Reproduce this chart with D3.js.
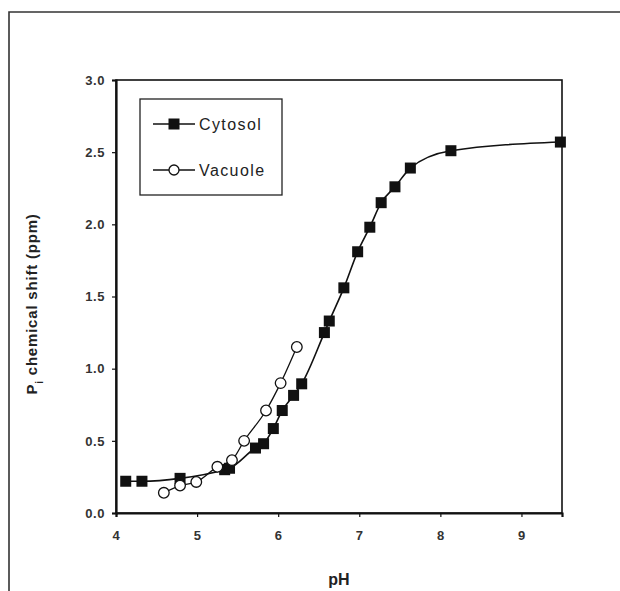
<!DOCTYPE html>
<html lang="en">
    <head>
        <meta charset="UTF-8" />
        <title>Pi chemical shift vs pH</title>
        <script src="https://cdn.jsdelivr.net/npm/d3@7"></script>
    </head>
    <body style="padding: 0; margin: 0; background-color: #fff;">
        <script>
            // titration curves: cytosol and vacuole
            const cytosolPH = [4.12, 4.32, 4.79, 5.34, 5.4, 5.72, 5.82, 5.94, 6.05, 6.19, 6.29, 6.57, 6.63, 6.81, 6.98, 7.13, 7.27, 7.44, 7.63, 8.13, 9.48];
            const cytosolShift = [0.22, 0.22, 0.24, 0.3, 0.31, 0.45, 0.48, 0.585, 0.71, 0.815, 0.895, 1.25, 1.33, 1.56, 1.81, 1.98, 2.15, 2.26, 2.39, 2.51, 2.57];
            const vacuolePH = [4.59, 4.79, 4.99, 5.25, 5.43, 5.58, 5.85, 6.03, 6.23];
            const vacuoleShift = [0.14, 0.19, 0.215, 0.32, 0.366, 0.5, 0.71, 0.9, 1.15];
            const xTicks = [4, 5, 6, 7, 8, 9];
            const yTicks = [0, 0.5, 1, 1.5, 2, 2.5, 3];

            {
                const width = 620;
                const height = 591;
                const plotLeft = 116, plotRight = 562, plotTop = 80, plotBottom = 513;
                const font = "'Liberation Sans', Arial, sans-serif";

                const svg = d3
                    .select('body')
                    .append('svg')
                    .attr('width', width)
                    .attr('height', height)
                    .style('display', 'block')
                    .style('font-family', font);

                // page frame (top and left edge)
                svg.append('path')
                    .attr('d', `M9 ${height} L9 12 L${width} 12`)
                    .attr('fill', 'none')
                    .attr('stroke', '#333')
                    .attr('stroke-width', 1.6);

                const x = d3.scaleLinear().domain([4, 9.5]).range([plotLeft, plotRight]);
                const y = d3.scaleLinear().domain([0, 3]).range([plotBottom, plotTop]);

                // plot box
                svg.append('rect')
                    .attr('x', plotLeft)
                    .attr('y', plotTop)
                    .attr('width', plotRight - plotLeft)
                    .attr('height', plotBottom - plotTop)
                    .attr('fill', 'none')
                    .attr('stroke', '#111')
                    .attr('stroke-width', 1.6);

                const xAxis = svg.append('g')
                    .attr('transform', `translate(0,${plotBottom})`)
                    .call(d3.axisBottom(x).tickValues(xTicks).tickFormat(d3.format('d')).tickSize(4).tickPadding(14));
                const yAxis = svg.append('g')
                    .attr('transform', `translate(${plotLeft},0)`)
                    .call(d3.axisLeft(y).tickValues(yTicks).tickFormat(d3.format('.1f')).tickSize(4).tickPadding(7));

                [xAxis, yAxis].forEach(g => {
                    g.select('.domain').attr('stroke', '#111').attr('stroke-width', 2.2);
                    g.selectAll('.tick line').attr('stroke', '#111').attr('stroke-width', 1.2);
                    g.selectAll('.tick text')
                        .attr('fill', '#333')
                        .style('font-family', font)
                        .style('font-size', '13px')
                        .style('font-weight', 'bold')
                        .style('letter-spacing', '0.6px');
                });

                // axis titles
                svg.append('text')
                    .attr('x', x(6.75))
                    .attr('y', 585)
                    .attr('text-anchor', 'middle')
                    .attr('fill', '#222')
                    .style('font-size', '16px')
                    .style('font-weight', 'bold')
                    .text('pH');

                const yTitle = svg.append('text')
                    .attr('transform', 'translate(37,304) rotate(-90)')
                    .attr('text-anchor', 'middle')
                    .attr('fill', '#222')
                    .style('font-size', '15px')
                    .style('font-weight', 'bold')
                    .style('letter-spacing', '0.8px');
                yTitle.append('tspan').text('P');
                yTitle.append('tspan').attr('baseline-shift', 'sub').style('font-size', '10px').text('i');
                yTitle.append('tspan').text(' chemical shift (ppm)');

                const cytosol = cytosolPH.map((p, i) => [p, cytosolShift[i]]);
                const vacuole = vacuolePH.map((p, i) => [p, vacuoleShift[i]]);

                const line = d3.line()
                    .x(d => x(d[0]))
                    .y(d => y(d[1]))
                    .curve(d3.curveMonotoneX);

                svg.append('path')
                    .attr('d', line(cytosol))
                    .attr('fill', 'none')
                    .attr('stroke', '#111')
                    .attr('stroke-width', 1.6);
                svg.append('path')
                    .attr('d', line(vacuole))
                    .attr('fill', 'none')
                    .attr('stroke', '#111')
                    .attr('stroke-width', 1.3);

                const sq = 11;
                svg.selectAll('rect.cyt')
                    .data(cytosol)
                    .join('rect')
                    .attr('class', 'cyt')
                    .attr('x', d => x(d[0]) - sq / 2)
                    .attr('y', d => y(d[1]) - sq / 2)
                    .attr('width', sq)
                    .attr('height', sq)
                    .attr('fill', '#111');

                svg.selectAll('circle.vac')
                    .data(vacuole)
                    .join('circle')
                    .attr('class', 'vac')
                    .attr('cx', d => x(d[0]))
                    .attr('cy', d => y(d[1]))
                    .attr('r', 5.3)
                    .attr('fill', '#fff')
                    .attr('stroke', '#111')
                    .attr('stroke-width', 1.3);

                // legend
                const legend = svg.append('g');
                legend.append('rect')
                    .attr('x', 140)
                    .attr('y', 99)
                    .attr('width', 142)
                    .attr('height', 96)
                    .attr('fill', '#fff')
                    .attr('stroke', '#222')
                    .attr('stroke-width', 1.3);

                const items = [
                    { name: 'Cytosol', y: 124, marker: 'square' },
                    { name: 'Vacuole', y: 170, marker: 'circle' }
                ];
                items.forEach(it => {
                    legend.append('line')
                        .attr('x1', 153).attr('x2', 195)
                        .attr('y1', it.y).attr('y2', it.y)
                        .attr('stroke', '#111')
                        .attr('stroke-width', 1.5);
                    if (it.marker === 'square') {
                        legend.append('rect')
                            .attr('x', 174 - sq / 2).attr('y', it.y - sq / 2)
                            .attr('width', sq).attr('height', sq)
                            .attr('fill', '#111');
                    } else {
                        legend.append('circle')
                            .attr('cx', 174).attr('cy', it.y).attr('r', 5)
                            .attr('fill', '#fff').attr('stroke', '#111').attr('stroke-width', 1.3);
                    }
                    legend.append('text')
                        .attr('x', 199)
                        .attr('y', it.y + 6)
                        .attr('fill', '#222')
                        .style('font-size', '16px')
                        .style('letter-spacing', '1.4px')
                        .text(it.name);
                });
            }
        </script>
    </body>
</html>
